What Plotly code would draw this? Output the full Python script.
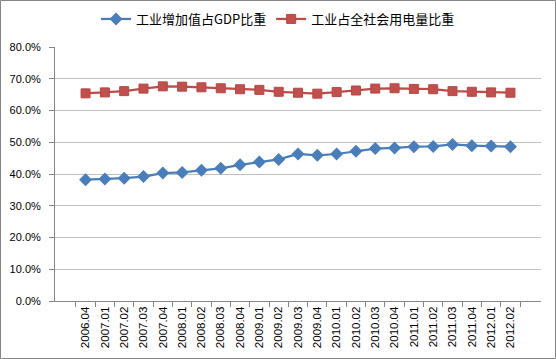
import plotly.graph_objects as go

categories = ["2006.04", "2007.01", "2007.02", "2007.03", "2007.04", "2008.01", "2008.02",
              "2008.03", "2008.04", "2009.01", "2009.02", "2009.03", "2009.04", "2010.01",
              "2010.02", "2010.03", "2010.04", "2011.01", "2011.02", "2011.03", "2011.04",
              "2012.01", "2012.02"]
gdp_share = [38.2, 38.4, 38.7, 39.2, 40.3, 40.5, 41.2, 41.8, 42.9, 43.8, 44.6, 46.3, 45.9,
             46.3, 47.2, 48.0, 48.2, 48.6, 48.7, 49.3, 48.9, 48.8, 48.6]
power_share = [65.4, 65.7, 66.1, 66.9, 67.6, 67.5, 67.3, 67.0, 66.7, 66.5, 65.9, 65.6, 65.3,
               65.8, 66.3, 66.9, 67.0, 66.8, 66.7, 66.1, 65.9, 65.7, 65.6]
series_names = ["工业增加值占GDP比重", "工业占全社会用电量比重"]
y_ticks = [0, 10, 20, 30, 40, 50, 60, 70, 80]

W, H = 556, 359
L, R, T, B = 55, 15, 47, 58
pw, ph = W - L - R, H - T - B

fig = go.Figure()
fig.add_trace(go.Scatter(
    x=categories, y=[v / 100 for v in gdp_share], name=series_names[0],
    mode="lines+markers",
    line=dict(color="#4A7EBB", width=2.25),
    marker=dict(symbol="diamond", size=10, color="#4A7EBB", line=dict(color="#4A7EBB", width=0)),
))
fig.add_trace(go.Scatter(
    x=categories, y=[v / 100 for v in power_share], name=series_names[1],
    mode="lines+markers",
    line=dict(color="#BE4B48", width=2.25),
    marker=dict(symbol="square", size=9, color="#C0504D", line=dict(color="#B84744", width=1)),
))

fig.update_layout(
    width=W, height=H,
    margin=dict(l=L, r=R, t=T, b=B, autoexpand=False),
    paper_bgcolor="white", plot_bgcolor="white",
    font=dict(family="Liberation Sans, Arial, sans-serif", size=11, color="#000000"),
    legend=dict(orientation="h", xref="container", yref="container",
                x=278 / W, xanchor="center", y=1 - 19 / H, yanchor="middle",
                font=dict(family="Noto Sans CJK SC", size=13),
                bgcolor="rgba(0,0,0,0)", tracegroupgap=0),
    showlegend=True,
    xaxis=dict(type="category", tickangle=-90, showgrid=False, showline=True,
               linecolor="#868686", linewidth=1, ticks="outside", ticklen=5,
               tickcolor="#868686", tickson="boundaries", automargin=False,
               tickfont=dict(family="Liberation Sans, Arial, sans-serif", size=11.5)),
    yaxis=dict(range=[0, 0.8], tickvals=[v / 100 for v in y_ticks], tickformat=".1%",
               showgrid=True, gridcolor="#BFBFBF", gridwidth=1, showline=True,
               linecolor="#868686", linewidth=1, ticks="outside", ticklen=5,
               tickcolor="#868686", zeroline=False, automargin=False,
               ticklabelstandoff=6,
               tickfont=dict(family="Liberation Sans, Arial, sans-serif", size=11)),
    shapes=[dict(type="rect", xref="paper", yref="paper",
                 x0=(0.5 - L) / pw, x1=(W - 0.5 - L) / pw,
                 y0=-(B - 0.5) / ph, y1=(ph + T - 0.5) / ph,
                 line=dict(color="#868686", width=1))],
)

fig.write_html("out.html", config={"displayModeBar": False},
               post_script="document.body.style.margin='0';")
